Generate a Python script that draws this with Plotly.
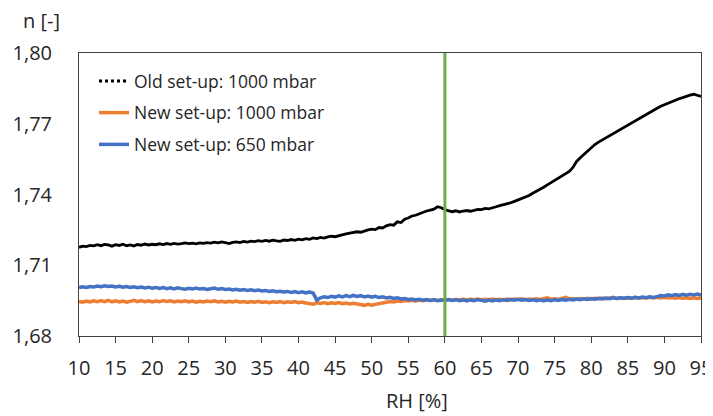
import numpy as np
import plotly.graph_objects as go

# Sampling grid: relative humidity [%], 0.5 % steps from 10 to 95
rh = np.arange(10.0, 95.01, 0.5)

old_1000 = [
    1.7176, 1.7181, 1.7179, 1.7184, 1.7182, 1.7187, 1.7183, 1.7188, 1.7186, 1.7181,
    1.7187, 1.7184, 1.7189, 1.7183, 1.7186, 1.7182, 1.7188, 1.7185, 1.7190, 1.7186,
    1.7189, 1.7187, 1.7191, 1.7188, 1.7192, 1.7189, 1.7193, 1.7190, 1.7192, 1.7195,
    1.7192, 1.7194, 1.7191, 1.7195, 1.7193, 1.7196, 1.7194, 1.7198, 1.7195, 1.7199,
    1.7196, 1.7192, 1.7197, 1.7199, 1.7196, 1.7201, 1.7198, 1.7202, 1.7200, 1.7204,
    1.7201, 1.7205, 1.7202, 1.7206, 1.7203, 1.7201, 1.7207, 1.7205, 1.7209, 1.7206,
    1.7211, 1.7208, 1.7213, 1.7210, 1.7216, 1.7213, 1.7218, 1.7215, 1.7220, 1.7223,
    1.7221, 1.7226, 1.7229, 1.7233, 1.7236, 1.7239, 1.7242, 1.7240, 1.7246, 1.7250,
    1.7253, 1.7251, 1.7260, 1.7258, 1.7267, 1.7272, 1.7270, 1.7284, 1.7281, 1.7295,
    1.7300, 1.7309, 1.7312, 1.7319, 1.7324, 1.7330, 1.7334, 1.7338, 1.7348, 1.7344,
    1.7336, 1.7330, 1.7327, 1.7331, 1.7326, 1.7330, 1.7332, 1.7329, 1.7334, 1.7337,
    1.7336, 1.7341, 1.7339, 1.7345, 1.7348, 1.7353, 1.7356, 1.7360, 1.7365, 1.7371,
    1.7377, 1.7383, 1.7390, 1.7396, 1.7405, 1.7413, 1.7422, 1.7431, 1.7441, 1.7450,
    1.7459, 1.7468, 1.7478, 1.7488, 1.7498, 1.7515, 1.7540, 1.7556, 1.7570, 1.7586,
    1.7598, 1.7612, 1.7622, 1.7631, 1.7641, 1.7652, 1.7660, 1.7669, 1.7677, 1.7688,
    1.7696, 1.7705, 1.7714, 1.7722, 1.7733, 1.7742, 1.7750, 1.7757, 1.7766, 1.7774,
    1.7781, 1.7787, 1.7793, 1.7800, 1.7806, 1.7811, 1.7817, 1.7821, 1.7825, 1.7821,
    1.7816,
]

new_1000 = [
    1.6947, 1.6943, 1.6948, 1.6944, 1.6949, 1.6945, 1.6950, 1.6946, 1.6951, 1.6945,
    1.6949, 1.6944, 1.6948, 1.6943, 1.6947, 1.6951, 1.6946, 1.6950, 1.6945, 1.6949,
    1.6944, 1.6948, 1.6945, 1.6950, 1.6946, 1.6949, 1.6944, 1.6948, 1.6945, 1.6949,
    1.6944, 1.6948, 1.6943, 1.6947, 1.6944, 1.6948, 1.6945, 1.6949, 1.6944, 1.6947,
    1.6943, 1.6947, 1.6944, 1.6948, 1.6943, 1.6946, 1.6942, 1.6946, 1.6943, 1.6947,
    1.6942, 1.6945, 1.6941, 1.6945, 1.6942, 1.6946, 1.6941, 1.6945, 1.6942, 1.6946,
    1.6941, 1.6944, 1.6940, 1.6938, 1.6935, 1.6941, 1.6938, 1.6942, 1.6937, 1.6941,
    1.6938, 1.6942, 1.6937, 1.6940, 1.6936, 1.6939, 1.6935, 1.6933, 1.6930, 1.6934,
    1.6931, 1.6934, 1.6937, 1.6940, 1.6943, 1.6946, 1.6944, 1.6948, 1.6946, 1.6950,
    1.6948, 1.6951, 1.6949, 1.6952, 1.6950, 1.6953, 1.6951, 1.6954, 1.6951, 1.6954,
    1.6952, 1.6955, 1.6952, 1.6955, 1.6953, 1.6956, 1.6953, 1.6956, 1.6954, 1.6957,
    1.6953, 1.6956, 1.6954, 1.6957, 1.6954, 1.6956, 1.6953, 1.6957, 1.6954, 1.6957,
    1.6955, 1.6958, 1.6954, 1.6957, 1.6955, 1.6958, 1.6955, 1.6957, 1.6962, 1.6956,
    1.6958, 1.6955, 1.6958, 1.6964, 1.6957, 1.6959, 1.6956, 1.6959, 1.6957, 1.6960,
    1.6957, 1.6960, 1.6958, 1.6961, 1.6958, 1.6961, 1.6964, 1.6959, 1.6962, 1.6959,
    1.6962, 1.6960, 1.6963, 1.6960, 1.6963, 1.6961, 1.6964, 1.6961, 1.6964, 1.6961,
    1.6964, 1.6961, 1.6963, 1.6960, 1.6963, 1.6960, 1.6962, 1.6959, 1.6962, 1.6959,
    1.6961,
]

new_650 = [
    1.7005, 1.7009, 1.7006, 1.7010, 1.7008, 1.7012, 1.7009, 1.7013, 1.7010, 1.7012,
    1.7008, 1.7011, 1.7007, 1.7010, 1.7006, 1.7009, 1.7005, 1.7008, 1.7004, 1.7007,
    1.7003, 1.7006, 1.7002, 1.7005, 1.7001, 1.7004, 1.7000, 1.7004, 1.7001, 1.6998,
    1.7002, 1.6999, 1.7003, 1.6999, 1.7001, 1.6997, 1.7000, 1.7003, 1.6998, 1.7001,
    1.6997, 1.6999, 1.6995, 1.6998, 1.6994, 1.6997, 1.6993, 1.6996, 1.6992, 1.6995,
    1.6991, 1.6993, 1.6989, 1.6992, 1.6988, 1.6990, 1.6987, 1.6989, 1.6985, 1.6988,
    1.6984, 1.6987, 1.6983, 1.6986, 1.6982, 1.6952, 1.6962, 1.6966, 1.6963, 1.6968,
    1.6965, 1.6970, 1.6966, 1.6971, 1.6967, 1.6972, 1.6968, 1.6971, 1.6966, 1.6969,
    1.6965, 1.6968, 1.6963, 1.6966, 1.6961, 1.6964, 1.6959, 1.6962, 1.6957, 1.6959,
    1.6955, 1.6957, 1.6953, 1.6956, 1.6952, 1.6955, 1.6951, 1.6954, 1.6950, 1.6953,
    1.6951, 1.6955, 1.6951, 1.6954, 1.6950, 1.6953, 1.6949, 1.6953, 1.6950, 1.6954,
    1.6951, 1.6948, 1.6952, 1.6949, 1.6953, 1.6950, 1.6954, 1.6951, 1.6955, 1.6952,
    1.6956, 1.6952, 1.6955, 1.6951, 1.6954, 1.6950, 1.6953, 1.6949, 1.6953, 1.6950,
    1.6954, 1.6951, 1.6955, 1.6952, 1.6956, 1.6953, 1.6957, 1.6954, 1.6958, 1.6955,
    1.6959, 1.6956, 1.6960, 1.6957, 1.6961, 1.6958, 1.6962, 1.6959, 1.6962, 1.6960,
    1.6963, 1.6960, 1.6964, 1.6961, 1.6965, 1.6962, 1.6966, 1.6963, 1.6967, 1.6972,
    1.6970, 1.6975, 1.6971, 1.6976, 1.6972, 1.6977, 1.6973, 1.6977, 1.6974, 1.6978,
    1.6973,
]

marker_rh = 60
legend_names = ["Old set-up: 1000 mbar", "New set-up: 1000 mbar", "New set-up: 650 mbar"]
y_ticks = [1.68, 1.71, 1.74, 1.77, 1.80]
x_ticks = list(range(10, 96, 5))

BLACK = "#000000"
ORANGE = "#ED7D31"
BLUE = "#4472C4"
GREEN = "#70AD47"
TXT = "#262626"
FONT = "Open Sans"

fig = go.Figure()
# legend-only entry for the dotted black series
fig.add_trace(go.Scatter(x=[None], y=[None], mode="lines", name=legend_names[0],
                         line=dict(color=BLACK, width=3, dash="dot"),
                         legendgroup="a"))
fig.add_trace(go.Scatter(x=rh, y=new_1000, mode="lines", name=legend_names[1],
                         line=dict(color=ORANGE, width=3.5), legendgroup="b"))
fig.add_trace(go.Scatter(x=rh, y=new_650, mode="lines", name=legend_names[2],
                         line=dict(color=BLUE, width=3.5), legendgroup="c"))
fig.add_trace(go.Scatter(x=rh, y=old_1000, mode="lines", name=legend_names[0],
                         line=dict(color=BLACK, width=2.8), showlegend=False,
                         legendgroup="a"))

fig.add_shape(type="line", x0=marker_rh, x1=marker_rh, y0=0, y1=1, xref="x", yref="paper",
              line=dict(color=GREEN, width=3), layer="above")

# the page body adds an 8 px offset at the top-left; size the figure to end at the window edge
OFF = 8
W, H = 713 - OFF, 416 - OFF
pl, pt = 79 - OFF, 53 - OFF
pr = W - (701 - OFF)
pb = H - (336 - OFF)
pw, ph = W - pl - pr, H - pt - pb


def px2paper(px, py):
    # px, py: screen pixel positions
    return (px - OFF - pl) / pw, 1 - (py - OFF - pt) / ph


n_pos = px2paper(41, 20)
rh_pos = px2paper(417, 400)
leg_pos = px2paper(94, 63)

fig.update_layout(
    width=W, height=H,
    margin=dict(l=pl, r=pr, t=pt, b=pb, autoexpand=False),
    paper_bgcolor="white", plot_bgcolor="white",
    separators=", ",
    font=dict(family=FONT, color=TXT, size=20),
    showlegend=True,
    legend=dict(x=leg_pos[0], y=leg_pos[1], xanchor="left", yanchor="top",
                bgcolor="rgba(0,0,0,0)", font=dict(size=17.5, family=FONT, color=TXT),
                traceorder="grouped", tracegroupgap=6, itemwidth=30),
    xaxis=dict(range=[10, 95], tickvals=x_ticks, showgrid=False, zeroline=False,
               showline=True, linecolor="#404040", linewidth=1, mirror=True,
               ticks="outside", ticklen=6, tickcolor="#404040", automargin=False,
               ticklabeloverflow="allow",
               tickfont=dict(size=20, family=FONT, color=TXT), ticklabelstandoff=8),
    yaxis=dict(range=[1.68, 1.80], tickvals=y_ticks, tickformat=".2f", showgrid=False,
               zeroline=False, showline=True, linecolor="#404040", linewidth=1, mirror=True,
               ticks="", automargin=False, tickfont=dict(size=20, family=FONT, color=TXT),
               ticklabelstandoff=22),
    annotations=[
        dict(text="n [-]", x=n_pos[0], y=n_pos[1], xref="paper", yref="paper",
             xanchor="center", yanchor="middle",
             showarrow=False, font=dict(size=20, family=FONT, color=TXT)),
        dict(text="RH [%]", x=rh_pos[0], y=rh_pos[1], xref="paper", yref="paper",
             xanchor="center", yanchor="middle",
             showarrow=False, font=dict(size=20, family=FONT, color=TXT)),
    ],
)

fig.write_html("out.html")
